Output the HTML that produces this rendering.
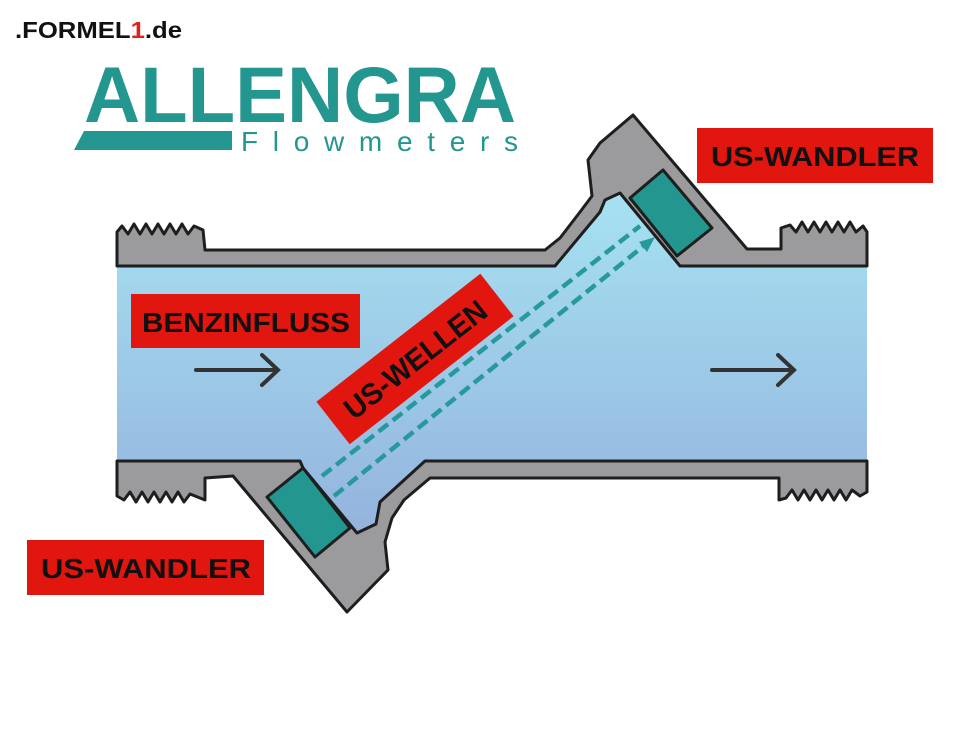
<!DOCTYPE html>
<html><head><meta charset="utf-8"><style>
html,body{margin:0;padding:0;background:#fff;}
svg{display:block}
text{font-family:"Liberation Sans",sans-serif;}
</style></head><body>
<svg width="980" height="730" viewBox="0 0 980 730" xmlns="http://www.w3.org/2000/svg">
<defs>
<linearGradient id="fl" x1="0" y1="0" x2="0" y2="1">
<stop offset="0" stop-color="#a6e2f1"/><stop offset="1" stop-color="#94b3de"/>
</linearGradient>
</defs>
<rect width="980" height="730" fill="#fff"/>
<text x="15" y="38" font-size="23" font-weight="bold" fill="#111" textLength="167" lengthAdjust="spacingAndGlyphs">.FORMEL<tspan fill="#e0201b">1</tspan>.de</text>
<text x="84" y="122" font-size="79" font-weight="bold" fill="#23968f" textLength="432" lengthAdjust="spacingAndGlyphs">ALLENGRA</text>
<polygon points="84,131 232,131 232,150 74,150" fill="#23968f"/>
<text x="241" y="151" font-size="28" fill="#23968f" textLength="277" lengthAdjust="spacing">Flowmeters</text>

<g stroke="#1e1e1e" stroke-width="3" stroke-linejoin="round" fill="#9b9b9d">
<path d="M117,266 L117,232 L122,226 L128,234 L134,224 L140,234 L146,224 L152,234 L158,224 L164,234 L170,224 L176,234 L182,224 L188,234 L194,226 L203,230 L205,250 L545,250 L560,238 L580,212 L592,196 L590,178 L588,160 L600,143 L633,115 L747,249 L781,249 L781,228 L790,225 L796,232 L802,222 L808,232 L814,222 L820,232 L826,222 L832,232 L838,222 L844,232 L850,222 L856,232 L863,226 L867,232 L867,266 Z"/>
<path d="M117,461 L117,496 L124,500 L130,492 L136,502 L142,492 L148,502 L154,492 L160,502 L166,492 L172,502 L178,492 L184,502 L190,494 L205,500 L205,478 L233,476 L347,612 L388,570 L385,542 L392,518 L404,500 L430,478 L779,478 L779,500 L786,498 L792,490 L798,500 L804,490 L810,500 L816,490 L822,500 L828,490 L834,500 L840,490 L846,500 L852,490 L860,496 L867,492 L867,461 Z"/>
</g>
<path d="M117,266 L555,266 L600,212 L605,200 L620,193 L680,266 L867,266 L867,461 L425,461 L380,502 L376,524 L357,533 L303,468 L300,461 L117,461 Z" fill="url(#fl)"/>
<path d="M117,266 L555,266 L600,212 L605,200 L620,193 L680,266 L867,266 M867,461 L425,461 L380,502 L376,524 L357,533 L303,468 L300,461 L117,461" fill="none" stroke="#1e1e1e" stroke-width="3" stroke-linejoin="round"/>
<polygon points="630,198 663,170 712,228 677,256" fill="#22968f" stroke="#1e1e1e" stroke-width="3" stroke-linejoin="round"/>
<polygon points="267,497 303,468 350,528 315,557" fill="#22968f" stroke="#1e1e1e" stroke-width="3" stroke-linejoin="round"/>
<g stroke="#27989c" stroke-width="4.5" stroke-dasharray="12,6" fill="none">
<line x1="322" y1="476" x2="640" y2="226"/>
<line x1="334" y1="496" x2="646" y2="244"/>
</g>
<polygon points="655,237 639,242 647,252" fill="#27989c"/>
<g stroke="#333" stroke-width="4" fill="none" stroke-linecap="round">
<path d="M196,370 L277,370 M262,355 L278,370 L262,385"/>
<path d="M712,370 L793,370 M778,355 L794,370 L778,385"/>
</g>
<rect x="697" y="128" width="236" height="55" fill="#e1160e"/>
<text x="815" y="166" font-size="28" font-weight="bold" fill="#111" text-anchor="middle" textLength="208" lengthAdjust="spacingAndGlyphs">US-WANDLER</text>
<rect x="131" y="294" width="229" height="54" fill="#e1160e"/>
<text x="246" y="332" font-size="28" font-weight="bold" fill="#111" text-anchor="middle" textLength="208" lengthAdjust="spacingAndGlyphs">BENZINFLUSS</text>
<rect x="27" y="540" width="237" height="55" fill="#e1160e"/>
<text x="146" y="578" font-size="28" font-weight="bold" fill="#111" text-anchor="middle" textLength="210" lengthAdjust="spacingAndGlyphs">US-WANDLER</text>
<g transform="translate(415,359) rotate(-38)">
<rect x="-104" y="-27" width="208" height="54" fill="#e1160e"/>
<text x="0" y="11" font-size="30" font-weight="bold" fill="#111" text-anchor="middle" textLength="172" lengthAdjust="spacingAndGlyphs">US-WELLEN</text>
</g>
</svg>
</body></html>
